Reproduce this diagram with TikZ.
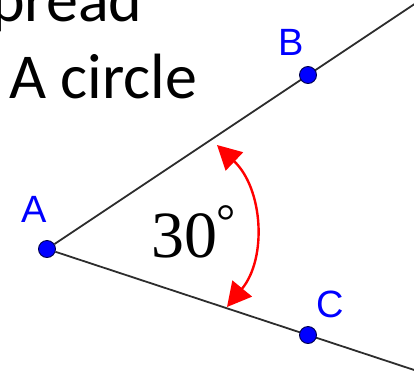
\documentclass[tikz,border=0pt]{standalone}
\usepackage{fontspec}
\setmainfont{Liberation Serif}
\newfontfamily\slidefont{Carlito}
\newfontfamily\labelfont{Liberation Sans}
\usetikzlibrary{arrows.meta,positioning,backgrounds,calc}
\definecolor{ptblue}{RGB}{0,0,255}
\definecolor{arcred}{RGB}{255,0,0}
\definecolor{raygray}{RGB}{45,45,45}
\tikzset{
  point/.style={circle, fill=ptblue, draw=ptblue!30!black, line width=0.9pt,
                minimum size=17pt, inner sep=0pt},
  ptlabel/.style={text=ptblue, font=\labelfont\fontsize{38}{38}\selectfont,
                  inner sep=0pt, anchor=base},
  slidetext/.style={font=\slidefont\fontsize{64}{64}\selectfont, inner sep=0pt, anchor=base west},
  ray/.style={line width=1.8pt, raygray},
  anglearrow/.style={{Triangle[length=24pt,width=25pt]}-{Triangle[length=24pt,width=25pt]},
                     line width=2.4pt, arcred},
}

\begin{document}
\begin{tikzpicture}[x=1pt, y=-1pt]
\useasboundingbox (0,0) rectangle (414,375);

% slide text
\node[slidetext] (spread) at (-9,21) {pread};
\node[slidetext] (circletext) at (9,98) {A circle};

% points of the angle
\node[point] (A) at (47,249) {};
\node[point] (B) at (308,75) {};
\node[point] (C) at (308,335) {};
\node[ptlabel] (labA) at (34,222) {A};
\node[ptlabel] (labB) at (291,55) {B};
\node[ptlabel] (labC) at (330,317) {C};

\coordinate (rayB) at ($(A)!1.41!(B)$);
\coordinate (rayC) at ($(A)!1.41!(C)$);
\begin{scope}[on background layer]
\draw[ray] (A) -- (rayB);
\draw[ray] (A) -- (rayC);
\end{scope}

% angle mark
\coordinate (arctop) at (217,145);
\coordinate (arcbot) at (227,307);
\draw[anglearrow] (arctop) to[bend left=43] (arcbot);
\node[font=\fontsize{66}{66}\selectfont, inner sep=0pt, anchor=base west] (angle) at (151,257)
  {30\kern-1pt\raisebox{20pt}{\fontsize{48}{48}\selectfont °}};
\end{tikzpicture}
\end{document}
